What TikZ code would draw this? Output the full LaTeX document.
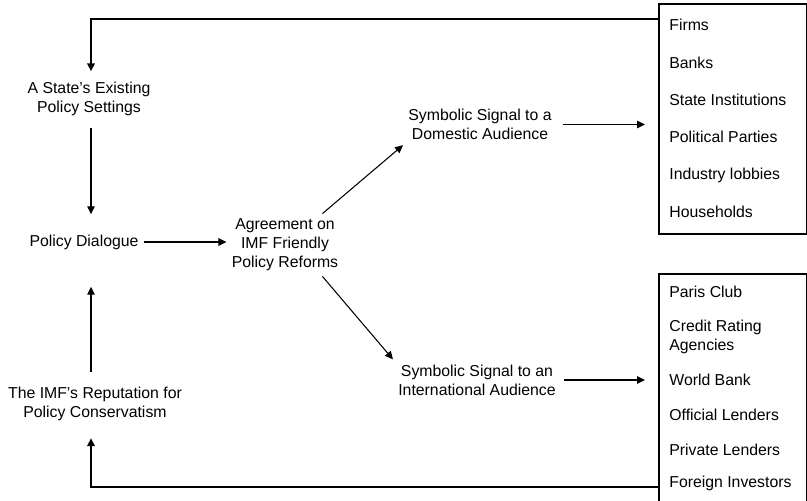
\documentclass[tikz,border=0pt]{standalone}
\usepackage{fontspec}
\setmainfont{Liberation Sans}
\usetikzlibrary{arrows.meta}

\tikzset{
  txt/.style={align=center, font=\fontsize{9}{10.8}\selectfont, inner sep=0.1cm},
  item/.style={anchor=west, align=left, font=\fontsize{9}{10.8}\selectfont, inner sep=0pt},
  arr/.style={-{Triangle[length=1.6mm,width=1.5mm]}, line width=0.6pt},
  feedback/.style={-{Triangle[length=1.6mm,width=1.5mm]}, line width=1.1pt},
  listbox/.style={draw, line width=0.9pt, anchor=north west, minimum width=2.96cm, inner sep=0pt},
}

\begin{document}
\begin{tikzpicture}[x=0.02cm, y=-0.02cm]
  \clip (0,0) rectangle (807,500);

  % left column
  \node[txt] (settings) at (89,98.5) {A State's Existing\\Policy Settings};
  \node[txt] (dialogue) at (84,242) {Policy Dialogue};
  \node[txt] (reputation) at (95,404) {The IMF's Reputation for\\Policy Conservatism};

  % middle
  \node[txt] (agreement) at (285,245) {Agreement on\\IMF Friendly\\Policy Reforms};
  \node[txt] (domestic) at (480,124.5) {Symbolic Signal to a\\Domestic Audience};
  \node[txt] (international) at (477,380) {Symbolic Signal to an\\International Audience};

  % audiences
  \node[listbox, minimum height=4.6cm] (dombox) at (658,3) {};
  \node[item] (firms) at (669,25) {Firms};
  \node[item] (banks) at (669,63) {Banks};
  \node[item] (stateinst) at (669,100) {State Institutions};
  \node[item] (parties) at (669,137) {Political Parties};
  \node[item] (lobbies) at (669,175) {Industry lobbies};
  \node[item] (households) at (669,212) {Households};

  \node[listbox, minimum height=4.8cm] (intbox) at (658,273) {};
  \node[item] (parisclub) at (669,292) {Paris Club};
  \node[item] (rating) at (669,336.5) {Credit Rating\\Agencies};
  \node[item] (worldbank) at (669,380) {World Bank};
  \node[item] (official) at (669,415) {Official Lenders};
  \node[item] (private) at (669,450) {Private Lenders};
  \node[item] (foreign) at (669,483) {Foreign Investors};

  \coordinate (topbend) at (91,19);
  \coordinate (botbend) at (91,487);

  % arrows
  \draw[arr, shorten <=0.14cm, shorten >=0.3cm] (settings.south -| topbend) -- (dialogue.north -| topbend);
  \draw[arr, shorten <=0.2cm, shorten >=0.64cm] (reputation.north -| topbend) -- (dialogue.south -| topbend);
  \draw[arr] (dialogue.east) -- (dialogue.east -| agreement.west);
  \draw[arr] (agreement.40) -- (domestic.south west);
  \draw[arr] (agreement.-40) -- (international.north west);
  \draw[arr, shorten <=0.12cm, shorten >=0.26cm] (domestic.east) -- (domestic.east -| dombox.west);
  \draw[arr, shorten <=0.06cm, shorten >=0.26cm] (international.east) -- (international.east -| intbox.west);

  % feedback loops
  \draw[feedback, shorten >=0.1cm] (topbend -| dombox.west) -- (topbend) -- (settings.north -| topbend);
  \draw[feedback, shorten >=0.24cm] (botbend -| intbox.west) -- (botbend) -- (reputation.south -| botbend);
\end{tikzpicture}
\end{document}
